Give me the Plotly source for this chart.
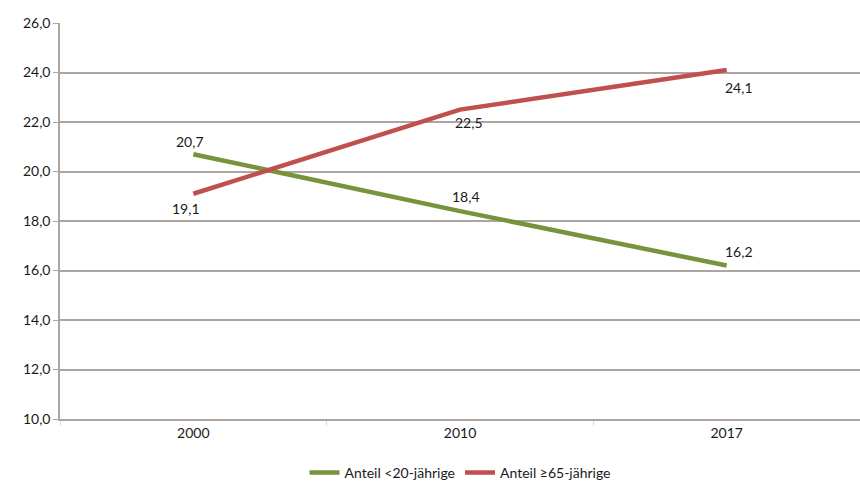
import plotly.graph_objects as go

years = ["2000", "2010", "2017"]
under20 = [20.7, 18.4, 16.2]
over65 = [19.1, 22.5, 24.1]
y_ticks = [10, 12, 14, 16, 18, 20, 22, 24, 26]

font_family = "Lato, Open Sans, sans-serif"
grid_col = "#aea5a3"
green = "#77933c"
red = "#c0504d"

fig = go.Figure()
fig.add_trace(go.Scatter(
    x=years, y=under20, mode="lines", name="Anteil <20-jährige",
    line=dict(color=green, width=4.5),
))
fig.add_trace(go.Scatter(
    x=years, y=over65, mode="lines", name="Anteil ≥65-jährige",
    line=dict(color=red, width=4.5),
))

def fmt(v):
    return f"{v:.1f}".replace(".", ",")

# label offsets (style only)
green_shift = [(-3, 13), (6, 15), (12, 14)]
red_shift = [(-7, -15), (9, -13), (12, -17)]
for i, (yv, (dx, dy)) in enumerate(zip(under20, green_shift)):
    fig.add_annotation(x=i, y=yv, xref="x", yref="y", text=fmt(yv), showarrow=False,
                       xshift=dx, yshift=dy,
                       font=dict(size=14, color="#1a1a1a", family=font_family))
for i, (yv, (dx, dy)) in enumerate(zip(over65, red_shift)):
    fig.add_annotation(x=i, y=yv, xref="x", yref="y", text=fmt(yv), showarrow=False,
                       xshift=dx, yshift=dy,
                       font=dict(size=14, color="#1a1a1a", family=font_family))

fig.update_layout(
    width=860, height=489,
    margin=dict(l=60, r=0, t=23, b=66),
    paper_bgcolor="white", plot_bgcolor="white",
    separators=",.",
    font=dict(family=font_family, size=14, color="#1a1a1a"),
    showlegend=True,
    legend=dict(orientation="h", x=0.5, xanchor="center", y=-0.1375, yanchor="middle",
                font=dict(size=14, color="#1a1a1a"), itemwidth=30),
    xaxis=dict(type="category", range=[-0.5, 2.5], showgrid=False,
               showline=True, linecolor=grid_col, linewidth=1.5,
               ticks="outside", tickson="boundaries", ticklen=5, tickcolor="#e0dcdc",
               tickfont=dict(size=14, color="#1a1a1a"), fixedrange=True),
    yaxis=dict(range=[10, 26], tickvals=y_ticks, tickformat=".1f",
               showgrid=True, gridcolor=grid_col, gridwidth=1.5,
               showline=True, linecolor=grid_col, linewidth=1.5,
               ticks="outside", ticklen=5, tickcolor=grid_col,
               tickfont=dict(size=14, color="#1a1a1a"), zeroline=False),
)

fig.write_html("out.html")
